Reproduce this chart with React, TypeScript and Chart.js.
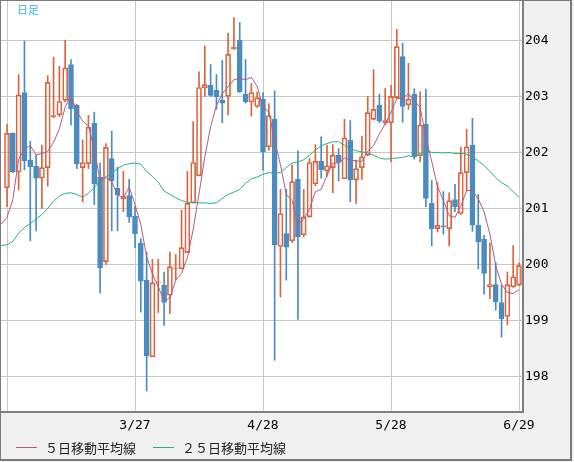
import React, { useEffect, useRef } from "react";
import { Chart, registerables } from "chart.js";

Chart.register(...registerables);

// x positions are trading-day indexes; tick labels sit on every 22nd day
const tickIndex = [0, 22, 44, 66, 88];
const tickLabels = ["", "3/27", "4/28", "5/28", "6/29"];
const priceTicks = [198, 199, 200, 201, 202, 203, 204];

const openP = [
  201.38, 202.35, 201.66, 203.08, 201.87, 201.76, 201.55, 201.74, 202.65, 202.68,
  202.94, 203.58, 202.85, 201.74, 201.81, 202.53, 201.57, 200.06, 201.9, 201.37,
  201.18, 201.24, 200.87, 200.39, 199.73, 198.36, 199.69, 199.64, 199.46, 199.94,
  199.93, 200.22, 201.11, 201.59, 203.16, 203.21, 203.12, 202.94, 203.01, 203.86,
  204.01, 203.05, 202.91, 202.83, 202.96, 202.11, 202.6, 200.33, 200.56, 200.43,
  201.53, 200.54, 200.86, 201.45, 201.85, 201.68, 201.74, 201.96, 201.54, 202.23,
  201.52, 201.74, 201.96, 202.6, 202.85, 202.54, 202.54, 202.99, 203.72, 202.86,
  203.05, 201.95, 202.51, 201.1, 200.65, 200.7, 200.65, 201.17, 200.92, 201.65,
  202.14, 200.71, 200.46, 199.61, 199.65, 199.33, 199.08, 199.61, 199.64,
];
const highP = [
  202.51, 202.36, 203.4, 204.0, 202.21, 201.96, 202.14, 203.38, 203.71, 203.55,
  204.01, 203.67, 202.87, 202.23, 202.67, 202.73, 201.82, 202.17, 202.39, 201.75,
  201.67, 201.53, 201.05, 200.47, 200.23, 200.1, 200.1, 199.875, 200.23, 200.19,
  200.98, 201.67, 202.56, 203.45, 203.91, 203.58, 203.4, 203.65, 204.14, 204.42,
  204.33, 203.67, 203.24, 203.09, 203.08, 202.88, 203.11, 201.35, 201.35, 201.79,
  202.04, 201.35, 201.9, 202.15, 202.29, 202.14, 202.15, 202.08, 202.6, 202.58,
  201.875, 202.3, 203.01, 203.49, 203.05, 203.15, 203.21, 204.21, 203.96, 203.6,
  203.15, 203.09, 203.14, 201.51, 201.47, 201.31, 201.29, 201.44, 202.1, 202.42,
  202.62, 201.26, 200.53, 200.39, 200.04, 199.64, 199.875, 200.35, 200.04,
];
const lowP = [
  201.04, 201.65, 201.34, 201.7, 200.43, 200.61, 201.01, 201.41, 202.63, 202.65,
  202.91, 202.5, 201.72, 201.13, 201.72, 201.08, 199.5, 200.01, 200.61, 200.61,
  200.95, 200.76, 200.31, 199.16, 197.75, 198.36, 199.15, 198.92, 199.13, 199.73,
  199.93, 200.22, 201.11, 201.59, 203.01, 203.01, 202.78, 202.54, 202.68, 203.85,
  203.08, 202.89, 202.66, 202.81, 201.69, 202.05, 198.3, 199.43, 199.73, 200.4,
  199.03, 200.5, 200.85, 201.41, 201.55, 201.58, 201.29, 201.5, 201.54, 201.13,
  201.1, 201.53, 201.95, 202.59, 202.54, 202.51, 201.84, 202.97, 202.55, 202.78,
  201.89, 201.84, 201.04, 200.34, 200.59, 200.55, 200.34, 200.95, 200.9, 201.32,
  200.6, 199.93, 199.48, 199.4, 199.19, 198.71, 198.93, 199.6, 199.63,
];
const closeP = [
  202.35, 201.66, 203.04, 201.86, 201.75, 201.55, 201.74, 203.26, 202.67, 202.92,
  203.52, 202.79, 201.81, 201.83, 202.46, 201.45, 199.95, 202.1, 201.5, 201.25,
  201.22, 200.86, 200.56, 199.71, 198.38, 199.68, 199.7, 199.33, 199.97, 199.95,
  200.31, 201.1, 201.83, 203.17, 203.22, 203.03, 203.0, 202.89, 203.76, 203.89,
  203.09, 202.91, 203.08, 202.99, 202.02, 202.67, 200.36, 200.92, 200.32, 201.49,
  200.5, 200.86, 201.83, 201.85, 201.7, 201.77, 201.96, 201.83, 202.27, 201.52,
  201.72, 201.93, 202.72, 202.78, 202.57, 202.58, 203.01, 203.9, 202.83, 202.96,
  201.93, 202.5, 201.19, 200.65, 200.71, 200.68, 201.15, 201.04, 201.65, 202.11,
  200.71, 200.41, 199.85, 199.65, 199.34, 199.04, 199.65, 199.79, 199.99,
];
// moving averages: first value belongs to the (hidden) day before the first candle
const ma5 = [
  200.73,
  200.85, 201.17, 201.89, 202.07, 202.13, 201.97, 201.99, 202.03, 202.19, 202.43,
  202.82, 203.03, 202.74, 202.57, 202.48, 202.07, 201.5, 201.56, 201.49, 201.25,
  201.2, 201.39, 201.08, 200.72, 200.15, 199.84, 199.61, 199.36, 199.41, 199.73,
  199.85, 200.13, 200.63, 201.27, 201.93, 202.47, 202.85, 203.06, 203.18, 203.31,
  203.33, 203.31, 203.35, 203.19, 202.82, 202.73, 202.22, 201.79, 201.26, 201.15,
  200.72, 200.82, 201.0, 201.31, 201.35, 201.6, 201.82, 201.82, 201.91, 201.87,
  201.86, 201.85, 202.03, 202.13, 202.34, 202.52, 202.73, 202.97, 202.98, 203.06,
  202.93, 202.82, 202.28, 201.85, 201.4, 201.15, 200.88, 200.85, 201.05, 201.33,
  201.33, 201.18, 200.95, 200.55, 199.99, 199.66, 199.51, 199.49, 199.56,
];
const ma25 = [
  200.35,
  200.36, 200.42, 200.57, 200.67, 200.74, 200.82, 200.9, 201.01, 201.14, 201.23,
  201.28, 201.29, 201.26, 201.21, 201.28, 201.38, 201.5, 201.58, 201.64, 201.72,
  201.78, 201.81, 201.82, 201.8, 201.67, 201.58, 201.48, 201.32, 201.26, 201.2,
  201.15, 201.12, 201.11, 201.11, 201.11, 201.1, 201.11, 201.19, 201.26, 201.3,
  201.35, 201.46, 201.54, 201.57, 201.62, 201.65, 201.64, 201.65, 201.74, 201.82,
  201.84, 201.88, 201.96, 202.05, 202.13, 202.17, 202.2, 202.2, 202.14, 202.08,
  202.04, 202.02, 202.0, 201.96, 201.91, 201.89, 201.9, 201.91, 201.92, 201.95,
  201.93, 201.99, 202.04, 202.01, 202.01, 202.0, 202.01, 201.99, 201.99, 201.98,
  201.93, 201.86, 201.78, 201.67, 201.56, 201.47, 201.41, 201.31, 201.21,
];

const UP = "#d9643f";
const DOWN = "#4a8bc0";
const MA5C = "#b45a84";
const MA25C = "#2eb07a";
const GRID = "#c8c8c8";
const AXIS = "#808080";
const MONO = '"DejaVu Sans Mono", monospace';
const CJK = '"Noto Sans CJK JP", sans-serif';

export default function App() {
  const ref = useRef<HTMLCanvasElement | null>(null);

  useEffect(() => {
    if (!ref.current) return;
    const isUp = openP.map((o, i) => closeP[i] >= o);
    const col = isUp.map((u) => (u ? UP : DOWN));
    const bodies = openP.map((o, i) => ({ x: i, y: [Math.min(o, closeP[i]), Math.max(o, closeP[i])] }));
    const upperWick = openP.map((o, i) => ({ x: i, y: [Math.max(o, closeP[i]), highP[i]] }));
    const lowerWick = openP.map((o, i) => ({ x: i, y: [lowP[i], Math.min(o, closeP[i])] }));

    const bgPlugin = {
      id: "plotBg",
      beforeDraw(chart: any) {
        const { ctx, chartArea } = chart;
        ctx.save();
        ctx.fillStyle = "#ffffff";
        ctx.fillRect(chartArea.left, chartArea.top, chartArea.right - chartArea.left, chartArea.bottom - chartArea.top);
        ctx.restore();
      },
    };

    const chart = new Chart(ref.current, {
      type: "bar",
      data: {
        datasets: [
          {
            type: "line",
            data: ma5.map((v, i) => ({ x: i - 1, y: v })),
            borderColor: MA5C,
            borderWidth: 1,
            pointRadius: 0,
            tension: 0,
            order: 0,
          } as any,
          {
            type: "line",
            data: ma25.map((v, i) => ({ x: i - 1, y: v })),
            borderColor: MA25C,
            borderWidth: 1,
            pointRadius: 0,
            tension: 0,
            order: 0,
          } as any,
          {
            type: "bar",
            data: bodies,
            backgroundColor: isUp.map((u) => (u ? "rgba(255,255,255,0)" : DOWN)),
            borderColor: col,
            borderWidth: 1,
            borderSkipped: false,
            barThickness: 5,
            grouped: false,
            order: 1,
          } as any,
          {
            type: "bar",
            data: upperWick,
            backgroundColor: col,
            borderWidth: 0,
            barThickness: 1,
            grouped: false,
            order: 2,
          } as any,
          {
            type: "bar",
            data: lowerWick,
            backgroundColor: col,
            borderWidth: 0,
            barThickness: 1,
            grouped: false,
            order: 2,
          } as any,
        ],
      },
      options: {
        animation: false,
        responsive: false,
        maintainAspectRatio: false,
        events: [],
        layout: { autoPadding: false, padding: { left: 1, top: 1, right: 0, bottom: 0 } },
        plugins: { legend: { display: false }, tooltip: { enabled: false } },
        scales: {
          x: {
            type: "linear",
            min: -1.03125,
            max: 88.6875,
            offset: false,
            grid: { color: GRID, lineWidth: 1, drawTicks: false, offset: false },
            border: { display: true, color: AXIS, width: 2 },
            ticks: {
              autoSkip: false,
              maxRotation: 0,
              padding: 6,
              color: "#000",
              font: { family: MONO, size: 13 },
              callback: (_v: any, i: number) => tickLabels[i],
            },
            afterBuildTicks: (s: any) => {
              s.ticks = tickIndex.map((v) => ({ value: v }));
            },
            afterFit: (s: any) => {
              s.height = 50;
              s.paddingLeft = 0;
              s.paddingRight = 0;
            },
          },
          y: {
            type: "linear",
            position: "right",
            min: 197.375,
            max: 204.714,
            grid: { color: GRID, lineWidth: 1, drawTicks: false },
            border: { display: true, color: AXIS, width: 2 },
            ticks: {
              padding: 2,
              color: "#000",
              font: { family: MONO, size: 13 },
              callback: (v: any) => String(v),
            },
            afterBuildTicks: (s: any) => {
              s.ticks = priceTicks.map((v) => ({ value: v }));
            },
            afterFit: (s: any) => {
              s.width = 51;
              s.paddingTop = 0;
              s.paddingBottom = 0;
            },
          },
        },
      } as any,
      plugins: [bgPlugin],
    });
    return () => chart.destroy();
  }, []);

  return (
    <div style={{ position: "absolute", left: 0, top: 0, width: 574, height: 462, background: "#f0f0f0", overflow: "hidden" }}>
      <canvas ref={ref} width={574} height={462} style={{ position: "absolute", left: 0, top: 0, display: "block" }} />
      <div
        style={{
          position: "absolute", left: 0, top: 0, width: 572, height: 461, boxSizing: "border-box",
          borderStyle: "solid", borderColor: "#7a7a7a", borderWidth: "1px 2px 2px 1px", pointerEvents: "none",
        }}
      />
      <div style={{ position: "absolute", left: 17, top: 4, fontFamily: CJK, fontSize: 11, lineHeight: "11px", color: "#3ab4e6", whiteSpace: "nowrap" }}>
        日足
      </div>
      <div style={{ position: "absolute", left: 16, top: 447, width: 21, height: 1, background: MA5C }} />
      <div style={{ position: "absolute", left: 45, top: 441, fontFamily: CJK, fontSize: 13, lineHeight: "13px", color: "#222", whiteSpace: "nowrap" }}>
        ５日移動平均線
      </div>
      <div style={{ position: "absolute", left: 153, top: 447, width: 21, height: 1, background: MA25C }} />
      <div style={{ position: "absolute", left: 182, top: 441, fontFamily: CJK, fontSize: 13, lineHeight: "13px", color: "#222", whiteSpace: "nowrap" }}>
        ２５日移動平均線
      </div>
    </div>
  );
}
